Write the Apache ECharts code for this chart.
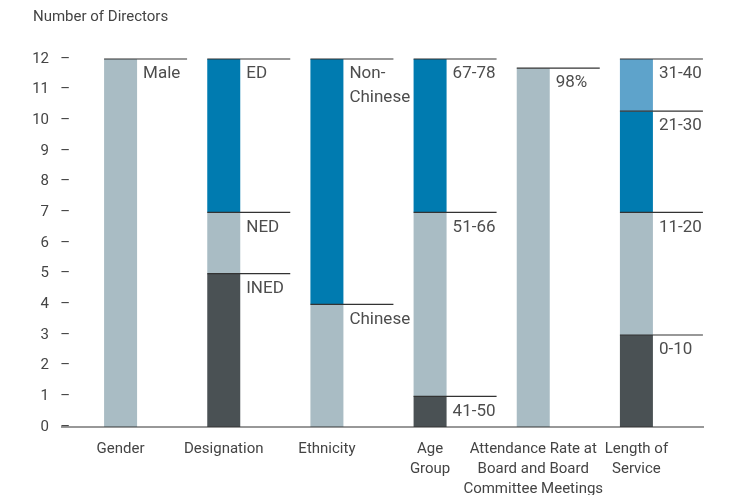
<!DOCTYPE html>
<html>
<head>
<meta charset="utf-8">
<script src="https://cdn.jsdelivr.net/npm/echarts@6/dist/echarts.min.js"></script>
<style>
  html, body { margin: 0; padding: 0; background: #fff; }
  #chart { width: 729px; height: 495px; }
</style>
</head>
<body>
<div id="chart"></div>
<script>
  // categories along the bottom
  var categories = ['Gender', 'Designation', 'Ethnicity', 'Age\nGroup',
    'Attendance Rate at\nBoard and Board\nCommittee Meetings', 'Length of\nService'];

  // stacked segments, bottom to top (null = no segment)
  var level1Names = ['Male', 'INED', 'Chinese', '41-50', '98%', '0-10'];
  var level1Values = [12, 5, 4, 1, 11.7, 3];
  var level2Names = [null, 'NED', 'Non-\nChinese', '51-66', null, '11-20'];
  var level2Values = [null, 2, 8, 6, null, 4];
  var level3Names = [null, 'ED', null, '67-78', null, '21-30'];
  var level3Values = [null, 5, null, 5, null, 3.3];
  var level4Names = [null, null, null, null, null, '31-40'];
  var level4Values = [null, null, null, null, null, 1.7];

  var yTicks = [0, 1, 2, 3, 4, 5, 6, 7, 8, 9, 10, 11, 12];

  // colours
  var LIGHT = '#A9BCC4', DARK = '#4A5154', BLUE = '#007BB0', SKY = '#5EA3CB';
  var level1Colors = [LIGHT, DARK, LIGHT, DARK, LIGHT, DARK];
  var level2Colors = [null, LIGHT, BLUE, LIGHT, null, LIGHT];
  var level3Colors = [null, BLUE, null, BLUE, null, BLUE];
  var level4Colors = [null, null, null, null, null, SKY];

  var BAR_W = 33;
  var LINE_LEN = 83;
  var FONT = 'Roboto, "Liberation Sans", sans-serif';

  var levels = [
    [level1Names, level1Values, level1Colors],
    [level2Names, level2Values, level2Colors],
    [level3Names, level3Values, level3Colors],
    [level4Names, level4Values, level4Colors]
  ];

  var series = [];
  var topLines = [];
  var running = categories.map(function () { return 0; });

  levels.forEach(function (lv) {
    var names = lv[0], values = lv[1], colors = lv[2];
    series.push({
      type: 'bar',
      stack: 'total',
      barWidth: BAR_W,
      silent: true,
      data: values.map(function (v, i) {
        if (v == null) return '-';
        return {
          value: v,
          itemStyle: { color: colors[i] },
          label: {
            show: true,
            formatter: names[i],
            position: [BAR_W + 6, 3],
            align: 'left',
            verticalAlign: 'top',
            color: '#4d4d4d',
            fontSize: 17,
            lineHeight: 24,
            fontFamily: FONT
          }
        };
      })
    });
    values.forEach(function (v, i) {
      if (v == null) return;
      running[i] += v;
      topLines.push([i, running[i]]);
    });
  });

  // horizontal rules at the top of every segment
  series.push({
    type: 'custom',
    silent: true,
    z: 5,
    data: topLines,
    renderItem: function (params, api) {
      var p = api.coord([api.value(0), api.value(1)]);
      var x0 = p[0] - BAR_W / 2;
      return {
        type: 'line',
        shape: { x1: x0, y1: p[1], x2: x0 + LINE_LEN, y2: p[1] },
        style: { stroke: '#333', lineWidth: 1.2 }
      };
    }
  });

  // baseline
  series.push({
    type: 'custom',
    silent: true,
    z: 6,
    data: [[0, 0]],
    renderItem: function (params, api) {
      var p = api.coord([0, 0]);
      var cs = params.coordSys;
      return {
        type: 'line',
        shape: { x1: cs.x - 8, y1: p[1], x2: cs.x + cs.width + 16, y2: p[1] },
        style: { stroke: '#333', lineWidth: 1.2 }
      };
    }
  });

  var chart = echarts.init(document.getElementById('chart'), null, { renderer: 'canvas' });
  chart.setOption({
    animation: false,
    backgroundColor: '#fff',
    title: {
      text: 'Number of Directors',
      left: 28,
      top: 5,
      textStyle: { fontSize: 15, fontWeight: 'normal', color: '#444', fontFamily: FONT }
    },
    grid: { left: 69, right: 41, top: 59, bottom: 68, outerBoundsMode: 'none', containLabel: false },
    xAxis: {
      type: 'category',
      data: categories,
      axisLine: { show: false },
      axisTick: { show: false },
      axisLabel: {
        interval: 0,
        margin: 12,
        color: '#444',
        fontSize: 15,
        lineHeight: 20,
        fontFamily: FONT
      }
    },
    yAxis: {
      type: 'value',
      min: yTicks[0],
      max: yTicks[yTicks.length - 1],
      interval: 1,
      axisLine: { show: false },
      axisTick: { show: false },
      splitLine: { show: false },
      axisLabel: {
        margin: -1,
        color: '#444',
        fontSize: 15,
        fontFamily: FONT,
        formatter: function (v) { return v + '   –'; }
      }
    },
    series: series
  });
</script>
</body>
</html>
